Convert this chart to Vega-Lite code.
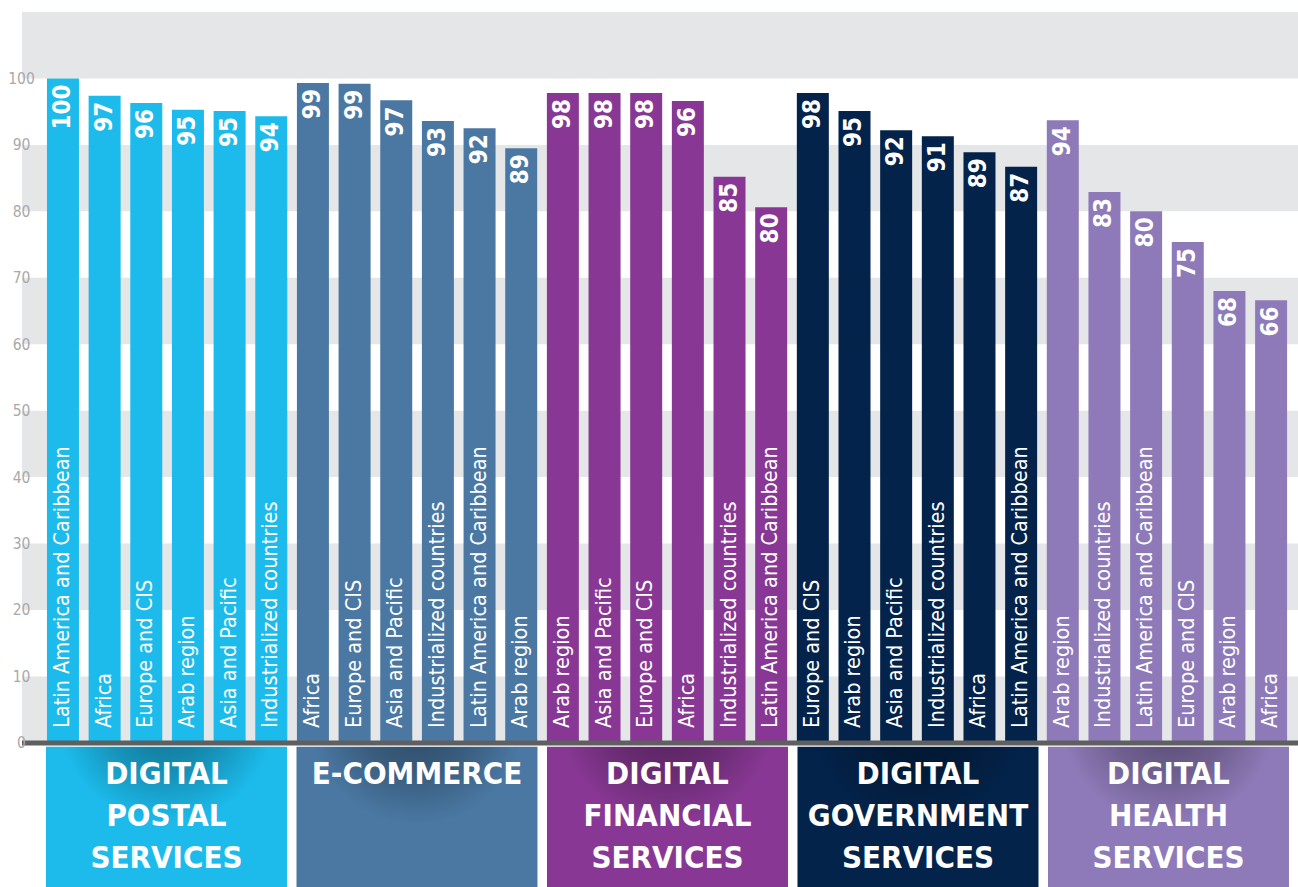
{
  "$schema": "https://vega.github.io/schema/vega-lite/v6.json",
  "width": 1276,
  "height": 875,
  "autosize": {"type": "none"},
  "padding": {"left": 22, "top": 12, "right": 0, "bottom": 0},
  "background": "#ffffff",
  "config": {
    "view": {"stroke": null},
    "axis": {"grid": false},
    "font": "DejaVu Sans Condensed, sans-serif"
  },
  "datasets": {
    "bands": [
      {"lo": 0, "hi": 10}, {"lo": 20, "hi": 30}, {"lo": 40, "hi": 50},
      {"lo": 60, "hi": 70}, {"lo": 80, "hi": 90}, {"lo": 100, "hi": 110}
    ],
    "groups": [
      {"group": "Digital postal services", "title": "DIGITAL\nPOSTAL\nSERVICES"},
      {"group": "E-commerce", "title": "E-COMMERCE"},
      {"group": "Digital financial services", "title": "DIGITAL\nFINANCIAL\nSERVICES"},
      {"group": "Digital government services", "title": "DIGITAL\nGOVERNMENT\nSERVICES"},
      {"group": "Digital health services", "title": "DIGITAL\nHEALTH\nSERVICES"}
    ],
    "bars": [
      {"id": 1, "group": "Digital postal services", "region": "Latin America and Caribbean", "value": 100, "label": 100},
      {"id": 2, "group": "Digital postal services", "region": "Africa", "value": 97.4, "label": 97},
      {"id": 3, "group": "Digital postal services", "region": "Europe and CIS", "value": 96.3, "label": 96},
      {"id": 4, "group": "Digital postal services", "region": "Arab region", "value": 95.3, "label": 95},
      {"id": 5, "group": "Digital postal services", "region": "Asia and Pacific", "value": 95.1, "label": 95},
      {"id": 6, "group": "Digital postal services", "region": "Industrialized countries", "value": 94.3, "label": 94},
      {"id": 7, "group": "E-commerce", "region": "Africa", "value": 99.3, "label": 99},
      {"id": 8, "group": "E-commerce", "region": "Europe and CIS", "value": 99.2, "label": 99},
      {"id": 9, "group": "E-commerce", "region": "Asia and Pacific", "value": 96.7, "label": 97},
      {"id": 10, "group": "E-commerce", "region": "Industrialized countries", "value": 93.6, "label": 93},
      {"id": 11, "group": "E-commerce", "region": "Latin America and Caribbean", "value": 92.5, "label": 92},
      {"id": 12, "group": "E-commerce", "region": "Arab region", "value": 89.5, "label": 89},
      {"id": 13, "group": "Digital financial services", "region": "Arab region", "value": 97.8, "label": 98},
      {"id": 14, "group": "Digital financial services", "region": "Asia and Pacific", "value": 97.8, "label": 98},
      {"id": 15, "group": "Digital financial services", "region": "Europe and CIS", "value": 97.8, "label": 98},
      {"id": 16, "group": "Digital financial services", "region": "Africa", "value": 96.6, "label": 96},
      {"id": 17, "group": "Digital financial services", "region": "Industrialized countries", "value": 85.2, "label": 85},
      {"id": 18, "group": "Digital financial services", "region": "Latin America and Caribbean", "value": 80.6, "label": 80},
      {"id": 19, "group": "Digital government services", "region": "Europe and CIS", "value": 97.8, "label": 98},
      {"id": 20, "group": "Digital government services", "region": "Arab region", "value": 95.1, "label": 95},
      {"id": 21, "group": "Digital government services", "region": "Asia and Pacific", "value": 92.2, "label": 92},
      {"id": 22, "group": "Digital government services", "region": "Industrialized countries", "value": 91.3, "label": 91},
      {"id": 23, "group": "Digital government services", "region": "Africa", "value": 88.9, "label": 89},
      {"id": 24, "group": "Digital government services", "region": "Latin America and Caribbean", "value": 86.7, "label": 87},
      {"id": 25, "group": "Digital health services", "region": "Arab region", "value": 93.7, "label": 94},
      {"id": 26, "group": "Digital health services", "region": "Industrialized countries", "value": 82.9, "label": 83},
      {"id": 27, "group": "Digital health services", "region": "Latin America and Caribbean", "value": 80.0, "label": 80},
      {"id": 28, "group": "Digital health services", "region": "Europe and CIS", "value": 75.4, "label": 75},
      {"id": 29, "group": "Digital health services", "region": "Arab region", "value": 68.0, "label": 68},
      {"id": 30, "group": "Digital health services", "region": "Africa", "value": 66.6, "label": 66}
    ]
  },
  "resolve": {"scale": {"x": "independent"}},
  "layer": [
    {
      "data": {"name": "bands"},
      "mark": {"type": "rect", "color": "#e5e6e8"},
      "encoding": {
        "y": {
          "field": "lo", "type": "quantitative", "title": null,
          "scale": {"domain": [-21.69, 110], "nice": false, "zero": false},
          "axis": {
            "values": [0, 10, 20, 30, 40, 50, 60, 70, 80, 90, 100],
            "domain": false, "ticks": false, "labelAlign": "center", "labelPadding": 1,
            "labelColor": "#a9a9a9", "labelFontSize": 15.5, "labelBaseline": "middle",
            "labelFont": "DejaVu Sans Condensed, sans-serif",
            "zindex": 1, "title": null
          }
        },
        "y2": {"field": "hi"}
      }
    },
    {
      "data": {"name": "bars"},
      "mark": {"type": "bar"},
      "encoding": {
        "x": {"field": "id", "type": "ordinal", "axis": null,
              "scale": {"type": "band", "paddingInner": 0.232, "paddingOuter": 0.4305, "align": 0.696}},
        "y": {"field": "value", "type": "quantitative", "title": null},
        "color": {"field": "group", "type": "nominal", "legend": null,
                  "scale": {"domain": ["Digital postal services", "E-commerce", "Digital financial services", "Digital government services", "Digital health services"],
                            "range": ["#1cbbec", "#4a78a3", "#883894", "#03234a", "#8e7ab8"]}}
      }
    },
    {
      "data": {"name": "bars"},
      "mark": {"type": "text", "angle": 270, "align": "right", "baseline": "middle", "dx": -6,
               "color": "#ffffff", "fontSize": 24, "fontWeight": "bold"},
      "encoding": {
        "x": {"field": "id", "type": "ordinal", "axis": null,
              "scale": {"type": "band", "paddingInner": 0.232, "paddingOuter": 0.4305, "align": 0.696}},
        "y": {"field": "value", "type": "quantitative", "title": null},
        "text": {"field": "label", "type": "quantitative"}
      }
    },
    {
      "data": {"name": "bars"},
      "mark": {"type": "text", "angle": 270, "align": "left", "baseline": "middle", "dx": 15,
               "color": "#ffffff", "fontSize": 21.5},
      "encoding": {
        "x": {"field": "id", "type": "ordinal", "axis": null,
              "scale": {"type": "band", "paddingInner": 0.232, "paddingOuter": 0.4305, "align": 0.696}},
        "y": {"datum": 0},
        "text": {"field": "region", "type": "nominal"}
      }
    },
    {
      "data": {"name": "groups"},
      "mark": {"type": "bar"},
      "encoding": {
        "x": {"field": "group", "type": "nominal", "axis": null,
              "scale": {"type": "band", "domain": ["Digital postal services", "E-commerce", "Digital financial services", "Digital government services", "Digital health services"],
                        "paddingInner": 0.0379, "paddingOuter": 0.0659, "align": 0.727}},
        "y": {"datum": -0.6},
        "y2": {"datum": -21.69},
        "color": {"field": "group", "type": "nominal", "legend": null}
      }
    },
    {
      "data": {"name": "groups"},
      "mark": {"type": "bar",
               "color": {"gradient": "radial", "x1": 0.5, "y1": 0.08, "r1": 0, "x2": 0.5, "y2": 0.08, "r2": 0.45,
                         "stops": [{"offset": 0, "color": "rgba(0,0,0,0.42)"}, {"offset": 0.55, "color": "rgba(0,0,0,0.22)"}, {"offset": 1, "color": "rgba(0,0,0,0)"}]}},
      "encoding": {
        "x": {"field": "group", "type": "nominal", "axis": null,
              "scale": {"type": "band", "domain": ["Digital postal services", "E-commerce", "Digital financial services", "Digital government services", "Digital health services"],
                        "paddingInner": 0.0379, "paddingOuter": 0.0659, "align": 0.727}},
        "y": {"datum": -0.6},
        "y2": {"datum": -21.69}
      }
    },
    {
      "data": {"name": "groups"},
      "mark": {"type": "text", "align": "center", "baseline": "top", "lineBreak": "\n", "lineHeight": 42,
               "color": "#ffffff", "fontSize": 31, "fontWeight": "bold"},
      "encoding": {
        "x": {"field": "group", "type": "nominal", "axis": null,
              "scale": {"type": "band", "domain": ["Digital postal services", "E-commerce", "Digital financial services", "Digital government services", "Digital health services"],
                        "paddingInner": 0.0379, "paddingOuter": 0.0659, "align": 0.727}},
        "y": {"datum": -2.64},
        "text": {"field": "title", "type": "nominal"}
      }
    },
    {
      "data": {"values": [{"z": 0}]},
      "mark": {"type": "rule", "color": "#5f5f5f", "strokeWidth": 5},
      "encoding": {"y": {"field": "z", "type": "quantitative", "title": null}}
    }
  ]
}
